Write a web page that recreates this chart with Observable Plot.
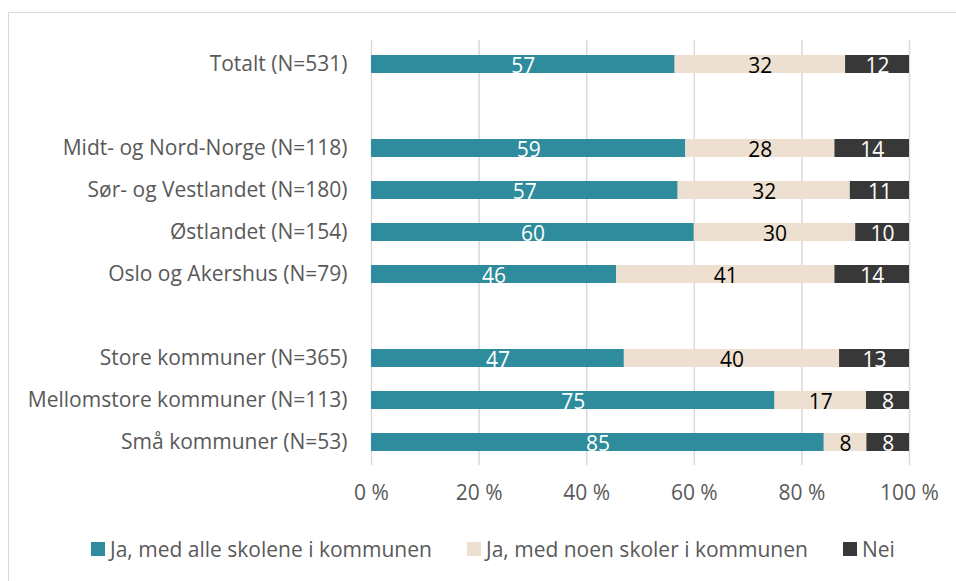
<!DOCTYPE html>
<html>
<head>
<meta charset="utf-8">
<script src="https://cdn.jsdelivr.net/npm/d3@7"></script>
<script src="https://cdn.jsdelivr.net/npm/@observablehq/plot@0.6"></script>
<style>
  html, body { margin: 0; padding: 0; background: #fff; }
  body { width: 956px; height: 581px; overflow: hidden; position: relative; font-family: "Open Sans", sans-serif; }
  #frame { position: absolute; left: 8px; top: 12px; width: 960px; height: 600px; border: 1px solid #d9d9d9; box-sizing: border-box; pointer-events: none; }
  #chart { position: absolute; left: 0; top: 0; }
  #legend { position: absolute; left: 0; top: 536px; width: 956px; height: 26px; font-size: 21px; color: #595959; }
  .item { position: absolute; top: 0; display: flex; align-items: center; height: 26px; white-space: nowrap; }
  .sw { width: 14px; height: 14px; margin-right: 5px; display: inline-block; }
</style>
</head>
<body>
<div id="frame"></div>
<div id="chart"></div>
<div id="legend"></div>
<script>
const categories = [
  "Totalt (N=531)",
  "Midt- og Nord-Norge (N=118)",
  "Sør- og Vestlandet (N=180)",
  "Østlandet (N=154)",
  "Oslo og Akershus (N=79)",
  "Store kommuner (N=365)",
  "Mellomstore kommuner (N=113)",
  "Små kommuner (N=53)"
];
const seriesNames = [
  "Ja, med alle skolene i kommunen",
  "Ja, med noen skoler i kommunen",
  "Nei"
];
const allSchools  = [57, 59, 57, 60, 46, 47, 75, 85];
const someSchools = [32, 28, 32, 30, 41, 40, 17, 8];
const noSchools   = [12, 14, 11, 10, 14, 13, 8, 8];
const xTicks = [0, 0.2, 0.4, 0.6, 0.8, 1];
const colors = ["#2e8c9c", "#ede0d1", "#383838"];

// y order with two blank spacer rows
const yDomain = [categories[0], "gap1", categories[1], categories[2], categories[3], categories[4], "gap2", categories[5], categories[6], categories[7]];

const seriesValues = [allSchools, someSchools, noSchools];
const data = [];
categories.forEach((c, i) => {
  seriesNames.forEach((s, j) => data.push({category: c, series: s, value: seriesValues[j][i]}));
});

const stackOpts = (extra) => Plot.stackX({offset: "normalize", order: null, x: "value", y: "category", ...extra});

const chart = Plot.plot({
  width: 956,
  height: 525,
  marginLeft: 371,
  marginRight: 47,
  marginTop: 40,
  marginBottom: 60,
  style: {fontFamily: "'Open Sans', sans-serif", fontSize: "21px", color: "#595959", background: "transparent"},
  x: {domain: [0, 1], ticks: xTicks, tickFormat: d => Math.round(d * 100) + " %", tickSize: 0, tickPadding: 20, label: null},
  y: {domain: yDomain, paddingInner: 0.58, paddingOuter: 0.29, tickSize: 0, tickPadding: 24, label: null, tickFormat: d => d.startsWith("gap") ? "" : d},
  color: {domain: seriesNames, range: colors},
  marks: [
    Plot.ruleX(xTicks, {stroke: "#d9d9d9", strokeWidth: 1.5}),
    Plot.barX(data, stackOpts({fill: "series"})),
    Plot.text(data, stackOpts({text: d => d.series === seriesNames[1] ? "" : String(d.value), fill: "white", fontSize: 21, dy: 2})),
    Plot.text(data, stackOpts({text: d => d.series === seriesNames[1] ? String(d.value) : "", fill: "black", fontSize: 21, dy: 2}))
  ]
});
document.getElementById("chart").appendChild(chart);

const legendLefts = [91, 467, 843];
const legend = document.getElementById("legend");
seriesNames.forEach((s, i) => {
  const it = document.createElement("div");
  it.className = "item";
  it.style.left = legendLefts[i] + "px";
  it.innerHTML = `<span class="sw" style="background:${colors[i]}"></span><span>${s}</span>`;
  legend.appendChild(it);
});
</script>
</body>
</html>
